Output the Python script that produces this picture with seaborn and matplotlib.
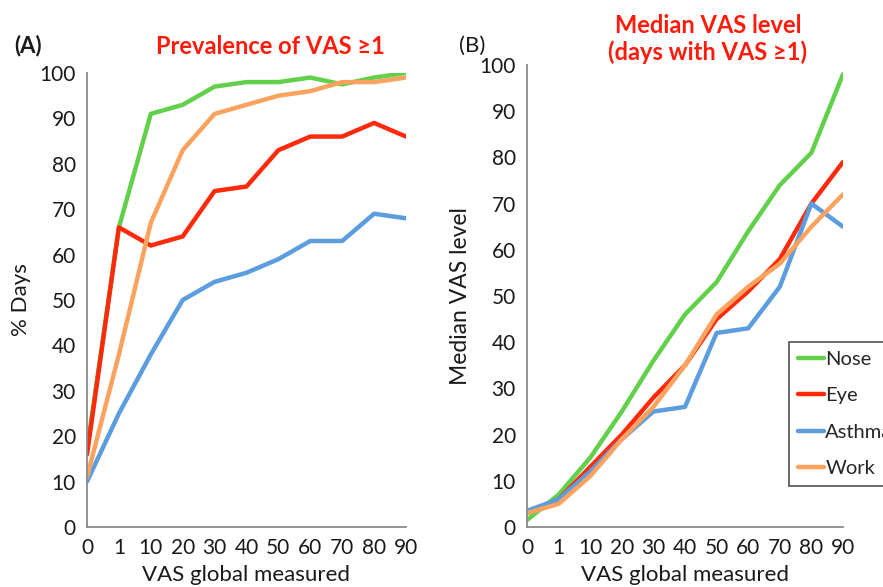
import numpy as np
import pandas as pd
import matplotlib
matplotlib.use("Agg")
import matplotlib.pyplot as plt
import seaborn as sns

# x categories (VAS global measured)
vas_labels = ["0", "1", "10", "20", "30", "40", "50", "60", "70", "80", "90"]
series = ["Nose", "Eye", "Asthma", "Work"]

# (A) prevalence of VAS >= 1, % days
prev_nose = [17, 66, 91, 93, 97, 98, 98, 99, 97.5, 99, 100]
prev_eye = [16, 66, 62, 64, 74, 75, 83, 86, 86, 89, 86]
prev_asthma = [10, 25, 38, 50, 54, 56, 59, 63, 63, 69, 68]
prev_work = [11, 38, 67, 83, 91, 93, 95, 96, 98, 98, 99]

# (B) median VAS level on days with VAS >= 1
med_nose = [1.5, 7, 15, 25, 36, 46, 53, 64, 74, 81, 98]
med_eye = [3, 6, 13, 20, 28, 35, 45, 51, 58, 70, 79]
med_asthma = [3.5, 6, 12, 19, 25, 26, 42, 43, 52, 70, 65]
med_work = [3, 5, 11, 19, 26, 35, 46, 52, 57, 65, 72]

palette = {"Nose": "#62d04a", "Eye": "#ff2a0a", "Asthma": "#5b9ddf", "Work": "#fba25e"}


def long_form(values):
    rows = []
    for name, vals in zip(series, values):
        for i, v in enumerate(vals):
            rows.append({"pos": i, "value": v, "series": name})
    return pd.DataFrame(rows)


prev = long_form([prev_nose, prev_eye, prev_asthma, prev_work])
med = long_form([med_nose, med_eye, med_asthma, med_work])

sns.set_style("white")
plt.rcParams["font.family"] = ["Lato", "DejaVu Sans"]

fig = plt.figure(figsize=(8.83, 5.87), dpi=100)
ax1 = fig.add_axes([87 / 883, 1 - 527 / 587, (406 - 87) / 883, (527 - 73) / 587])
ax2 = fig.add_axes([527 / 883, 1 - 527 / 587, (843 - 527) / 883, (527 - 65) / 587])

sns.lineplot(data=prev, x="pos", y="value", hue="series", palette=palette,
             linewidth=3.2, ax=ax1, legend=False)
sns.lineplot(data=med, x="pos", y="value", hue="series", palette=palette,
             linewidth=3.2, ax=ax2)

for ax in (ax1, ax2):
    ax.set_xlim(0, len(vas_labels) - 1)
    ax.set_ylim(0, 100)
    ax.set_xticks(range(len(vas_labels)))
    ax.set_xticklabels(vas_labels)
    ax.set_yticks(range(0, 101, 10))
    ax.tick_params(axis="both", direction="out", length=5, width=1.2,
                   color="#8a8a8a", labelsize=15, labelcolor="#1a1a1a", pad=3)
    for s in ("top", "right"):
        ax.spines[s].set_visible(False)
    for s in ("left", "bottom"):
        ax.spines[s].set_color("#8a8a8a")
        ax.spines[s].set_linewidth(1.3)
    ax.set_xlabel("VAS global measured", fontsize=16, color="#1a1a1a", labelpad=5)
    ax.patch.set_alpha(0)

ax1.set_ylabel("% Days", fontsize=16, color="#1a1a1a", labelpad=6)
ax2.set_ylabel("Median VAS level", fontsize=16.5, color="#1a1a1a", labelpad=6)

fig.text(14 / 883, 1 - 46 / 587, "(A)", fontsize=16, fontweight="bold",
         color="#1a1a1a", va="center")
fig.text(270 / 883, 1 - 46 / 587, "Prevalence of VAS ≥1", fontsize=17,
         fontweight="bold", color="#ff1a0a", ha="center", va="center")
fig.text(459 / 883, 1 - 46 / 587, "(B)", fontsize=16, color="#1a1a1a", va="center")
fig.text(708 / 883, 1 - 39 / 587, "Median VAS level\n(days with VAS ≥1)", fontsize=17,
         fontweight="bold", color="#ff1a0a", ha="center", va="center",
         linespacing=1.2)

handles, labels = ax2.get_legend_handles_labels()
ax2.legend(handles, labels, loc="upper left", bbox_to_anchor=(789 / 883, 1 - 342 / 587),
           bbox_transform=fig.transFigure, frameon=True, fancybox=False,
           edgecolor="#222222", fontsize=14.5, handlelength=1.3, handletextpad=0.05,
           labelspacing=0.95, borderpad=0.45, borderaxespad=0)
ax2.get_legend().get_frame().set_linewidth(1.2)

fig.savefig("out.png", dpi=100)
